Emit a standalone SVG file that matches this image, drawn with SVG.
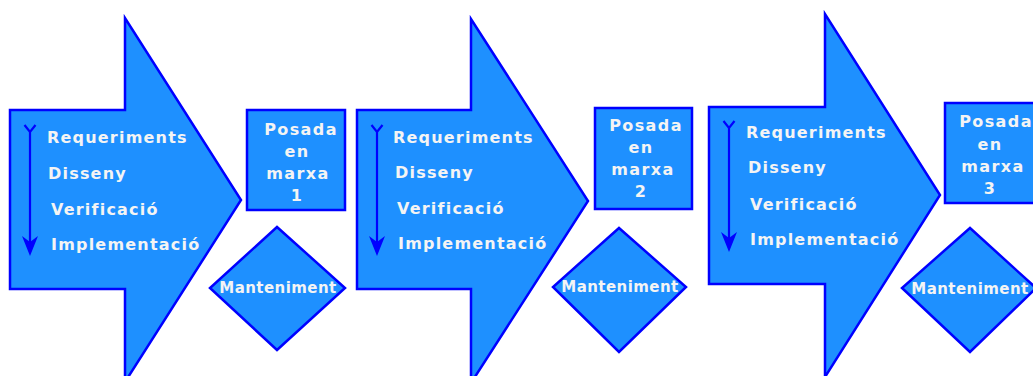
<svg xmlns="http://www.w3.org/2000/svg" width="1033" height="376" viewBox="0 0 1033 376">
<style>
.shape{fill:#1e90ff;stroke:#0000ff;stroke-width:2.5;stroke-linejoin:miter}
.t{font-family:"DejaVu Sans",sans-serif;font-weight:bold;font-size:16px;fill:#f4f4f4;letter-spacing:1.2px}
.m{font-family:"DejaVu Sans",sans-serif;font-weight:bold;font-size:15px;fill:#f4f4f4;letter-spacing:0.45px;text-anchor:middle}
.p{font-family:"DejaVu Sans",sans-serif;font-weight:bold;font-size:16px;fill:#f4f4f4;letter-spacing:1.4px;text-anchor:middle}
.vl{stroke:#0000ff;stroke-width:2.2;fill:none}
.ah{fill:#0000ff}
</style>
<defs>
<g id="flow">
<path class="vl" d="M0,0 L0,115 M-5.5,-7 L0,0 L5.5,-7"/>
<path class="ah" d="M0,124 L-8,104 L0,110 L8,104 Z"/>
</g>
</defs>

<g id="phase1">
<path class="shape" d="M10,110 L125,110 L125,18 L241,200 L125,382 L125,289 L10,289 Z"/>
<use href="#flow" x="30" y="132"/>
<text class="t" x="47" y="143">Requeriments</text>
<text class="t" x="48" y="179">Disseny</text>
<text class="t" x="51" y="215">Verificació</text>
<text class="t" x="51" y="250">Implementació</text>
</g>
<g id="deploy1">
<rect class="shape" x="247" y="110" width="98" height="100"/>
<text class="p" x="301" y="135">Posada</text>
<text class="p" x="297" y="157">en</text>
<text class="p" x="298" y="179">marxa</text>
<text class="p" x="297" y="201">1</text>
</g>
<g id="maint1">
<path class="shape" d="M277,227 L345,288 L277,350 L210,288 Z"/>
<text class="m" x="278" y="293">Manteniment</text>
</g>

<g id="phase2">
<path class="shape" d="M357,110 L471,110 L471,19 L588,201 L471,383 L471,289 L357,289 Z"/>
<use href="#flow" x="377" y="132"/>
<text class="t" x="393" y="143">Requeriments</text>
<text class="t" x="395" y="178">Disseny</text>
<text class="t" x="397" y="214">Verificació</text>
<text class="t" x="398" y="249">Implementació</text>
</g>
<g id="deploy2">
<rect class="shape" x="595" y="108" width="97" height="101"/>
<text class="p" x="646" y="131">Posada</text>
<text class="p" x="641" y="153">en</text>
<text class="p" x="643" y="175">marxa</text>
<text class="p" x="641" y="197">2</text>
</g>
<g id="maint2">
<path class="shape" d="M619,228 L686,287 L619,352 L553,287 Z"/>
<text class="m" x="620" y="292">Manteniment</text>
</g>

<g id="phase3">
<path class="shape" d="M709,107 L825,107 L825,14 L940,195 L825,377 L825,284 L709,284 Z"/>
<use href="#flow" x="729" y="128"/>
<text class="t" x="746" y="138">Requeriments</text>
<text class="t" x="748" y="173">Disseny</text>
<text class="t" x="750" y="210">Verificació</text>
<text class="t" x="750" y="245">Implementació</text>
</g>
<g id="deploy3">
<rect class="shape" x="945" y="103" width="100" height="100"/>
<text class="p" x="996" y="127">Posada</text>
<text class="p" x="990" y="150">en</text>
<text class="p" x="993" y="172">marxa</text>
<text class="p" x="990" y="194">3</text>
</g>
<g id="maint3">
<path class="shape" d="M970,228 L1036,288 L970,352 L902,288 Z"/>
<text class="m" x="970" y="294">Manteniment</text>
</g>

<g id="connectors"></g>
</svg>
